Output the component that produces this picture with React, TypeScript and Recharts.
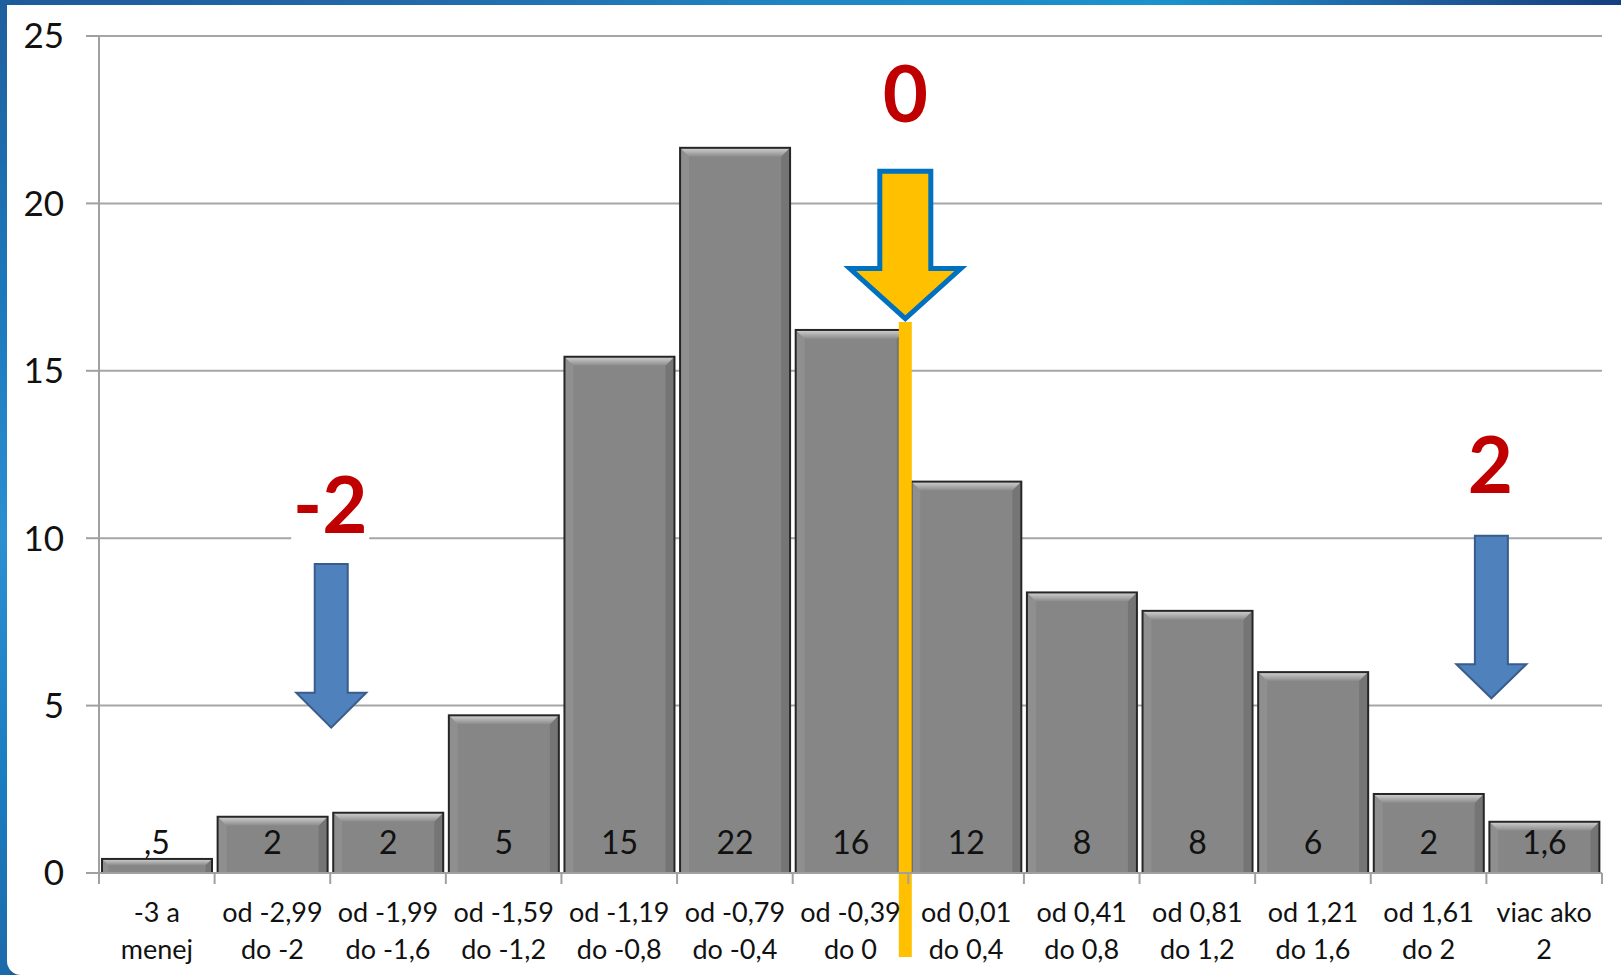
import React from 'react';
import { BarChart, Bar, XAxis, YAxis, CartesianGrid, LabelList, ReferenceLine } from 'recharts';

// ---- data ----
const categoryLabels = [
  '-3 a\nmenej',
  'od -2,99\ndo -2',
  'od -1,99\ndo -1,6',
  'od -1,59\ndo -1,2',
  'od -1,19\ndo -0,8',
  'od -0,79\ndo -0,4',
  'od -0,39\ndo 0',
  'od 0,01\ndo 0,4',
  'od 0,41\ndo 0,8',
  'od 0,81\ndo 1,2',
  'od 1,21\ndo 1,6',
  'od 1,61\ndo 2',
  'viac ako\n2',
];
const barHeights = [0.42, 1.68, 1.8, 4.71, 15.42, 21.66, 16.22, 11.69, 8.38, 7.83, 6.0, 2.36, 1.53];
const barLabels = [',5', '2', '2', '5', '15', '22', '16', '12', '8', '8', '6', '2', '1,6'];
const yTicks = [0, 5, 10, 15, 20, 25];

// annotation markers (placed at the right edge of a bin)
const markerBins = ['od -2,99\ndo -2', 'od -0,39\ndo 0', 'od 1,61\ndo 2'];
const markerTexts = ['-2', '0', '2'];
const markerTextBaseline = [10.16, 22.43, 11.35];
const markerArrowTop = [9.23, 20.96, 10.07];
const markerArrowTip = [4.34, 16.56, 5.22];
const zeroLineTop = 16.46;
const zeroLineBottom = -2.51;

const data = categoryLabels.map((c, i) => ({ cat: c, value: barHeights[i], label: barLabels[i] }));

const FONT = 'Lato, "Liberation Sans", sans-serif';

const BevelBar = (props: any) => {
  const { x, y, width, height } = props;
  if (!height || height <= 0) return null;
  const b = Math.min(9, height / 2.2);
  return (
    <g>
      <rect x={x} y={y} width={width} height={height} fill="#868686" />
      <polygon
        points={`${x},${y} ${x + width},${y} ${x + width - b},${y + b} ${x + b},${y + b}`}
        fill="url(#bevelTop)"
      />
      <polygon
        points={`${x},${y} ${x + b},${y + b} ${x + b},${y + height} ${x},${y + height}`}
        fill="rgba(255,255,255,0.08)"
      />
      <polygon
        points={`${x + width},${y} ${x + width - b},${y + b} ${x + width - b},${y + height} ${x + width},${y + height}`}
        fill="rgba(0,0,0,0.12)"
      />
      <rect x={x} y={y} width={width} height={height} fill="none" stroke="#262626" strokeWidth={2} />
    </g>
  );
};

const BarValueLabel = (props: any) => {
  const { x, y, width, height, value } = props;
  return (
    <text
      x={x + width / 2}
      y={y + height - 19}
      textAnchor="middle"
      fontSize={32}
      fontFamily={FONT}
      fill="#111"
    >
      {value}
    </text>
  );
};

const CategoryTick = (props: any) => {
  const { x, y, payload, index, visibleTicksCount } = props;
  const half = payload && typeof payload.offset === 'number' && payload.offset > 0 ? payload.offset : 57.8;
  const lines = String(payload.value).split('\n');
  const last = index === (visibleTicksCount ?? categoryLabels.length) - 1;
  return (
    <g>
      <line x1={x - half} x2={x - half} y1={y} y2={y + 11} stroke="#A0A0A0" strokeWidth={2} />
      {last && <line x1={x + half} x2={x + half} y1={y} y2={y + 11} stroke="#A0A0A0" strokeWidth={2} />}
      {lines.map((l, i) => (
        <text key={i} x={x} y={y + 49 + i * 37} textAnchor="middle" fontSize={27} fontFamily={FONT} fill="#111">
          {l}
        </text>
      ))}
    </g>
  );
};

const makeArrow = (shaft: number, head: number, headLen: number, fill: string, stroke: string, sw: number, dx: number) =>
  (p: any) => {
    const cx = p.x1 + dx;
    const top = Math.min(p.y1, p.y2);
    const tip = Math.max(p.y1, p.y2);
    const hs = tip - headLen;
    const d = `M${cx - shaft / 2},${top} L${cx + shaft / 2},${top} L${cx + shaft / 2},${hs} L${cx + head / 2},${hs} L${cx},${tip} L${cx - head / 2},${hs} L${cx - shaft / 2},${hs} Z`;
    return <path d={d} fill={fill} stroke={stroke} strokeWidth={sw} strokeLinejoin="miter" />;
  };

const makeText = (text: string, dx: number, mask: boolean) => (p: any) => {
  const cx = p.x1 + dx;
  const base = p.y1;
  return (
    <g>
      {mask && <rect x={cx - 39} y={base - 64} width={78} height={76} fill="#fff" />}
      <text x={cx} y={base} textAnchor="middle" fontSize={78} fontWeight={700} fontFamily={FONT} fill="#C00000">
        {text}
      </text>
    </g>
  );
};

const zeroLineShape = (p: any) => {
  const cx = p.x1 - 3;
  return <line x1={cx} x2={cx} y1={p.y1} y2={p.y2} stroke="#FFC000" strokeWidth={13} />;
};

const arrowStyles = [
  { shape: makeArrow(33, 70, 35, '#4F81BD', '#385D8A', 2, 1), textDx: 0, mask: true },
  { shape: makeArrow(51, 111, 50, '#FFC000', '#0070C0', 5, -3), textDx: -3, mask: false },
  { shape: makeArrow(33, 70, 34, '#4F81BD', '#385D8A', 2, 5), textDx: 4, mask: false },
];

export default function App() {
  return (
    <div
      style={{
        position: 'absolute',
        left: 0,
        top: 0,
        width: 1621,
        height: 975,
        overflow: 'hidden',
        background:
          'linear-gradient(90deg, #1d5a9a 0%, #2369a8 25%, #1f86c4 50%, #1a93cc 72%, #1f5c9c 88%, #143f80 100%)',
      }}
    >
      <div
        style={{
          position: 'absolute',
          left: 0,
          top: 0,
          width: 10,
          height: 975,
          background: 'linear-gradient(180deg, #1f5f9e 0%, #1b78bb 30%, #2b8fd0 55%, #1a7dc0 80%, #1d6aab 100%)',
        }}
      />
      <div
        style={{
          position: 'absolute',
          left: 7,
          top: 5,
          right: 0,
          bottom: 0,
          background: '#ffffff',
          borderBottomLeftRadius: 14,
        }}
      />
      <div style={{ position: 'absolute', left: 0, top: 0 }}>
        <BarChart
          width={1621}
          height={975}
          data={data}
          margin={{ top: 36, right: 19, bottom: 0, left: 0 }}
          barCategoryGap={3}
          style={{ fontFamily: FONT }}
        >
          <defs>
            <linearGradient id="bevelTop" x1="0" y1="0" x2="0" y2="1">
              <stop offset="0%" stopColor="#d2d2d2" />
              <stop offset="100%" stopColor="#8a8a8a" />
            </linearGradient>
          </defs>
          <CartesianGrid horizontal vertical={false} stroke="#A6A6A6" strokeWidth={2} />
          <XAxis
            dataKey="cat"
            interval={0}
            height={102}
            tickLine={false}
            tickSize={0}
            tickMargin={0}
            axisLine={{ stroke: '#A0A0A0', strokeWidth: 2 }}
            tick={<CategoryTick />}
          />
          <YAxis
            domain={[0, 25]}
            ticks={yTicks}
            width={99}
            tickSize={13}
            tickMargin={22}
            axisLine={{ stroke: '#A0A0A0', strokeWidth: 2 }}
            tickLine={{ stroke: '#A0A0A0', strokeWidth: 2 }}
            tick={{ fontSize: 35, fill: '#111', fontFamily: FONT }}
            allowDataOverflow
          />
          <Bar dataKey="value" isAnimationActive={false} shape={<BevelBar />}>
            <LabelList dataKey="label" content={<BarValueLabel />} />
          </Bar>
          <ReferenceLine
            segment={[
              { x: markerBins[1], y: zeroLineTop },
              { x: markerBins[1], y: zeroLineBottom },
            ]}
            position="end"
            ifOverflow="visible"
            shape={zeroLineShape}
          />
          {markerBins.map((bin, i) => (
            <ReferenceLine
              key={'arrow' + i}
              segment={[
                { x: bin, y: markerArrowTop[i] },
                { x: bin, y: markerArrowTip[i] },
              ]}
              position="end"
              ifOverflow="visible"
              shape={arrowStyles[i].shape}
            />
          ))}
          {markerBins.map((bin, i) => (
            <ReferenceLine
              key={'text' + i}
              segment={[
                { x: bin, y: markerTextBaseline[i] },
                { x: bin, y: markerTextBaseline[i] },
              ]}
              position="end"
              ifOverflow="visible"
              shape={makeText(markerTexts[i], arrowStyles[i].textDx, arrowStyles[i].mask)}
            />
          ))}
        </BarChart>
      </div>
    </div>
  );
}
